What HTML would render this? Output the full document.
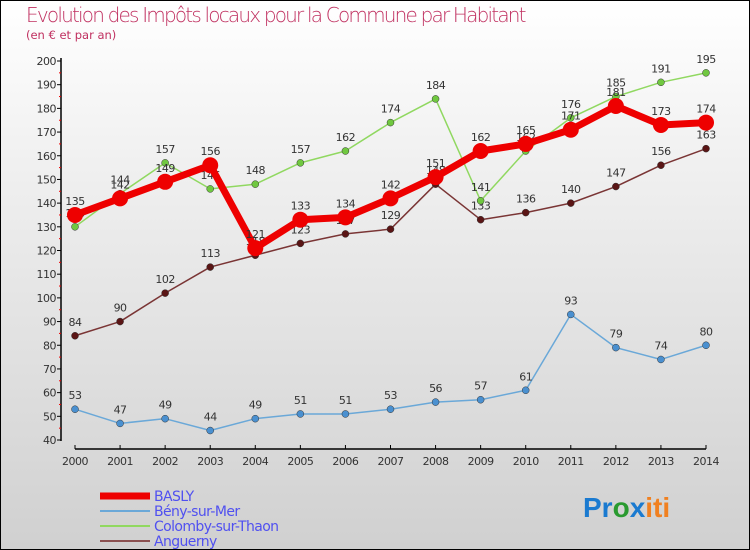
<!DOCTYPE html>
<html><head><meta charset="utf-8"><style>
body{margin:0}
#c{width:750px;height:550px;position:relative;overflow:hidden;background:linear-gradient(#fff 0%,#f0f0f0 30%,#d0d0d0 100%);font-family:"DejaVu Sans","Liberation Sans",sans-serif}
</style></head><body>
<div id="c">
<svg id="s" width="750" height="550" style="position:absolute;left:0;top:0">
<rect x="0.5" y="0.5" width="749" height="549" fill="none" stroke="#000"/>
<text x="26" y="22" font-size="20" fill="#c03060" font-weight="200" style="font-family:'DejaVu Sans';letter-spacing:-0.5px" textLength="500">Evolution des Impôts locaux pour la Commune par Habitant</text>
<text x="26" y="39" font-size="11.5" fill="#c03060">(en € et par an)</text>
<g id="axes"></g><g id="series"></g><g id="legend"></g>
<text x="583" y="517" font-size="28" font-weight="bold" font-family="Liberation Sans"><tspan fill="#1a7ad0">Pr</tspan><tspan fill="#2a9a30">o</tspan><tspan fill="#1a7ad0">x</tspan><tspan fill="#f08020">iti</tspan></text>
</svg>
</div>
<script>
const years=[2000,2001,2002,2003,2004,2005,2006,2007,2008,2009,2010,2011,2012,2013,2014];
const yTicks=[40,50,60,70,80,90,100,110,120,130,140,150,160,170,180,190,200];
const basly=[135,142,149,156,121,133,134,142,151,162,165,171,181,173,174];
const beny=[53,47,49,44,49,51,51,53,56,57,61,93,79,74,80];
const colomby=[130,144,157,146,148,157,162,174,184,141,162,176,185,191,195];
const anguerny=[84,90,102,113,118,123,127,129,148,133,136,140,147,156,163];
const NS="http://www.w3.org/2000/svg";
const X=i=>75+i*(706-75)/14;
const Y=v=>440-(v-40)*(440-61)/160;
function mk(t,a,p){const e=document.createElementNS(NS,t);for(const k in a)e.setAttribute(k,a[k]);p.appendChild(e);return e;}
const ax=document.getElementById('axes');
let l=mk('line',{x1:61,y1:58,x2:61,y2:441,stroke:'#000','stroke-width':1.5},ax);


l=mk('line',{x1:75,y1:449,x2:706,y2:449,stroke:'#000','stroke-width':1.5},ax);


yTicks.forEach(v=>{
 mk('line',{x1:57,y1:Y(v),x2:61,y2:Y(v),stroke:'#000'},ax);
 if(v<200) mk('line',{x1:59,y1:Y(v+5),x2:61,y2:Y(v+5),stroke:'#e00'},ax);
 const t=mk('text',{x:56,y:Y(v)+4,'font-size':11,'text-anchor':'end',fill:'#333','letter-spacing':'-0.5'},ax);
 t.textContent=v;
 
 
});
years.forEach((y,i)=>{
 mk('line',{x1:X(i),y1:445,x2:X(i),y2:449,stroke:'#000'},ax);
 const t=mk('text',{x:X(i),y:465,'font-size':11,'text-anchor':'middle',fill:'#333','letter-spacing':'-0.5'},ax);
 t.textContent=y;
 
 
});
const sg=document.getElementById('series');
const defs=[
 {d:anguerny,c:'#7a3535',w:1.5,r:3.5,f:'#5a1515',n:'anguerny'},
 {d:colomby,c:'#90d860',w:1.5,r:3.5,f:'#70c840',n:'colomby'},
 {d:beny,c:'#6aa8d8',w:1.5,r:3.5,f:'#4a90d0',n:'beny'},
 {d:basly,c:'#e00',w:7,r:8,f:'#e00',n:'basly'}];
defs.forEach(s=>{
 const g=mk('g',{},sg);
 
 
 const p=mk('polyline',{points:s.d.map((v,i)=>X(i)+','+Y(v)).join(' '),fill:'none',stroke:s.c,'stroke-width':s.w,'stroke-linejoin':'round'},g);
 
 
 s.d.forEach((v,i)=>{
  const c=mk('circle',{cx:X(i),cy:Y(v),r:s.r,fill:s.f,stroke:s.n=='basly'?'none':'#333','stroke-width':0.5},g);
  
  
  const t=mk('text',{x:X(i),y:Y(v)-10,'font-size':11,'text-anchor':'middle',fill:'#333','letter-spacing':'-0.5'},g);
  t.textContent=v;
  
  
 });
});
const lg=document.getElementById('legend');
[['BASLY','#e00',7],['Bény-sur-Mer','#6aa8d8',2],['Colomby-sur-Thaon','#90d860',2],['Anguerny','#8a5050',2]].forEach((e,i)=>{
 const y=496+i*15;
 const g=mk('g',{},lg);
 
 
 mk('line',{x1:100,y1:y,x2:150,y2:y,stroke:e[1],'stroke-width':e[2]},g);
 const t=mk('text',{x:154,y:y+5,'font-size':14,fill:'#5050f0','letter-spacing':'-0.6'},g);
 t.textContent=e[0];
});
</script>
</body></html>
